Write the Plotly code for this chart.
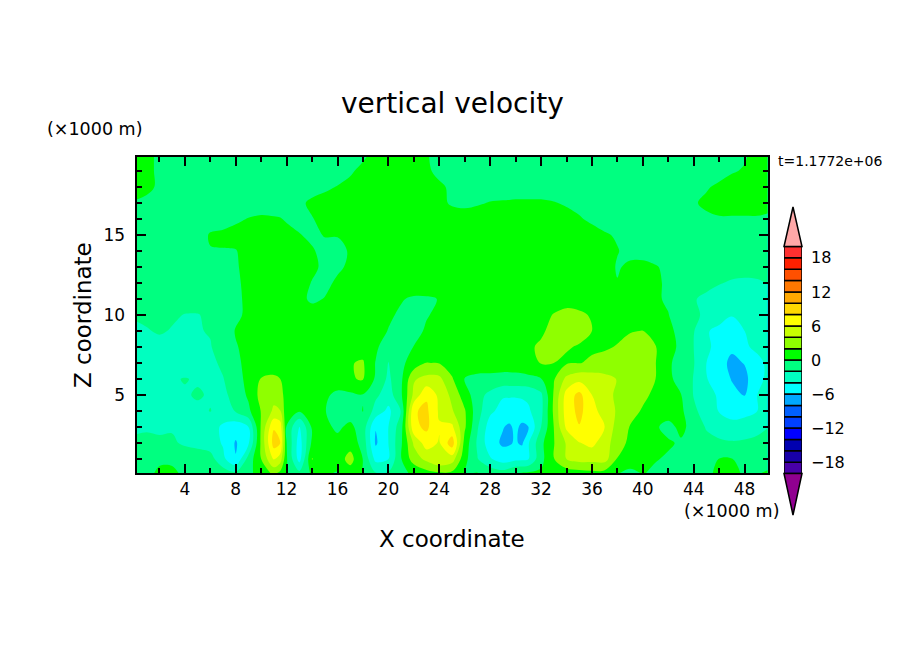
import plotly.graph_objects as go

W, H = 904, 654
FONT = "DejaVu Sans"

# grid of the field, km (a few half steps where the cells are narrow)
x_km = list(range(12)) + [11.5] + list(range(12, 30)) + [29.5, 30, 30.5] + list(range(31, 51))
z_km = [0.125, 1, 2, 3, 4, 5, 6, 7, 8, 9, 10, 11, 12, 13, 14, 15, 16, 17, 18, 19, 19.875]

# vertical velocity along each height level, same order as x_km
w_z00 = [-.5,-.3,.2,.2,-.2,-.4,-.6,-1,-1.6,-.4, .7,2.5,1.5,.1,-1.5,.3,.2,-.1,1,-.1,-1.9, -1.8,-.4,.3,1.3,1.8,1.6,-.1,.05,-.7,-1.2,-.6, .05,.1,.2,.3,.6,1,1.3,1.5,1.3,.1,-.4, .1,-.3,-.4,-.5,-.6,-.3,.3,.2,-.1,-.1,.2]
w_z01 = [-.8,-.5,-.2,-.2,-.7,-.9,-1.2,-3.5,-5.9,-1.2, 2,6.2,5,.2,-4.8,2.1,.4,.9,2.8,-.05,-4.6, -4,-.1,3,4.5,5.9,5,.6,-1.9,-3.8,-5,-4.9, -4.5,-4.4,-4.1,-.6,1.9,4,4.7,4.7,4.8,1.9,.9, .4,.1,-.2,-.6,-.8,-.7,.05,.05,-.5,-.6,-.5]
w_z02 = [-1.5,-1.4,-1.5,-1.7,-2.3,-2.6,-3,-4.2,-6.2,-4.3, 2.4,8.9,8,0,-5,.4,.4,.5,1.1,-.7,-6.3, -4,-.3,4.3,7,5.8,9.2,1.2,-2.3,-5.2,-6.3,-6.2, -5.8,-6.3,-4.2,-.5,1.9,4.2,5.9,6.5,5,2.8,1.6, .6,.15,.2,-.2,-.9,-1.3,-1.6,-1.8,-1.7,-1.4,-1]
w_z03 = [-2.5,-2.3,-2.5,-2.2,-2.5,-2.4,-3,-4.4,-5.1,-4, 2.3,7.8,7.1,-.1,-4.3,.3,.4,-.3,.4,-.9,-5.9, -4,-.8,7.5,8.4,6.2,6.4,2.3,-1.8,-5,-5.9,-6.3, -5.6,-6.4,-6.05,-2,2,6.4,7.9,7.4,6,3.1,1.9, 1.2,.2,-.5,.4,-.6,-2.2,-3,-3.3,-3.1,-2.7,-1.9]
w_z04 = [-2.9,-2.9,-2.9,-2.9,-2.8,-2.4,-1.95,-2.6,-1.9,-.4, 2.1,4.4,4.1,.5,.2,.4,.1,-1,-.9,.05,-2.8, -4.5,-1.9,7.8,8.4,5.7,4.2,2.2,-1.2,-3.6,-4.7,-4.9, -5,-4.9,-4.3,-2.6,2.4,7,8.5,6.8,5,3.8,2.7, 1.8,1.2,.8,.4,-1.6,-2.9,-4.1,-4.8,-4.6,-4,-3.3]
w_z05 = [-3.1,-3.1,-3,-3,-2.2,-1.8,-2.2,-2.5,-1.2,.3, 2.7,3.3,2.6,1.3,.6,.6,.3,-.4,-.4,-.1,-1.6, -3,-.3,4.5,7.7,5.5,3.5,1,-1.2,-2.6,-3.8,-3.8, -3.8,-3.7,-3.6,-2.4,2.2,6.8,8.6,6,4.6,3.7,3, 2.4,1.6,.9,.05,-2.1,-3.2,-4.3,-5.5,-6.1,-4,-3.5]
w_z06 = [-3,-3,-3,-2.2,-1.9,-2.2,-2.4,-2.1,-.7,.5, 2.1,2.3,2,1.6,1.3,1,.9,1,1.9,2.1,-.3, -2.4,-.4,3.8,4.6,4.5,2.2,-.1,-.3,-.4,-.6,-.6, -.6,-.6,-.5,-.1,1.8,4.5,5.4,5.2,4.8,3.9,3.2, 2.6,2,.3,-.5,-2.1,-3.9,-5,-6.1,-6.6,-4.4,-3.6]
w_z07 = [-3,-3,-3,-3,-3.1,-3.1,-2.5,-1.6,-.3,.4, .9,1.1,1.1,1.1,1.2,1.3,1.2,1.2,1.9,2.2,-.1, -2.05,-.4,.8,2.05,1.9,1,.6,.6,.7,.8,.8, .9,1.1,1.4,2.1,2,1.8,1.95,2.2,2.3,2.4,2.5, 2.5,2.05,.2,-.5,-1.9,-4,-5.2,-6.5,-5.9,-4.4,-3.6]
w_z08 = [-2.7,-2.6,-2.5,-2.5,-2.6,-2.6,-2.1,-1.2,-.1,.4, .7,1,1,1,1.1,1.1,1,1,1.1,1.2,.4, -1.3,-.9,.05,.5,.9,1.1,1.3,1.4,1.5,1.5,1.5, 1.6,1.7,1.9,2.1,2.4,2.1,1.9,1.8,1.9,2.05,2.3, 2.3,2.1,.5,-.3,-2,-3.6,-4.7,-5.6,-4.2,-3.7,-3.3]
w_z09 = [-2.4,-2.1,-1.85,-2.1,-2.3,-2.1,-1.9,-1,.1,.4, .7,.9,1,1,1,.9,.9,.9,.9,.8,.5, -.05,-.8,-.5,.2,.6,.9,1.2,1.4,1.5,1.6,1.65, 1.7,1.75,1.8,1.9,2.2,2.5,2.4,2,1.8,1.8,1.95, 2.02,1.2,.4,-.5,-1.9,-3.8,-4.6,-5,-4,-3.5,-3.2]
w_z10 = [-1.8,-1.7,-1.7,-1.8,-2.05,-2.05,-1.8,-1.3,-.3,.3, .7,.9,.9,.9,.7,.5,.5,.6,.7,.7,.5, .2,-.2,-.6,-.1,.3,.5,.9,1.1,1.3,1.4,1.45, 1.5,1.55,1.6,1.7,2.05,2.3,2.2,1.9,1.6,1.5,1.5, 1.4,.7,.05,-.8,-1.7,-2.3,-3,-3.9,-3.7,-3.1,-2.8]
w_z11 = [-1.4,-1.4,-1.4,-1.4,-1.4,-1.5,-1.4,-1.1,-.3,.3, .7,.8,.8,.7,.3,-.2,.05,.4,.6,.7,.7, .4,.1,-.2,-.2,.05,.5,.8,1,1.2,1.3,1.35, 1.4,1.4,1.4,1.5,1.6,1.6,1.5,1.4,1.2,1.2,1.2, 1,.2,-.2,-.7,-1.9,-2.3,-2.8,-3,-3,-2.8,-2.5]
w_z12 = [-1.2,-1.2,-1.2,-1.2,-1.2,-1.2,-1.1,-.9,-.2,.3, .6,.7,.7,.7,.4,-.05,-.3,.2,.5,.7,.8, .8,.8,.9,1,1.1,1.2,1.3,1.4,1.4,1.5,1.5, 1.5,1.5,1.5,1.5,1.5,1.5,1.4,1.2,.4,.05,.7, .6,.3,-.3,-.8,-1.2,-1.6,-1.9,-2.2,-2.3,-2.2,-1.9]
w_z13 = [-.9,-.9,-.9,-.9,-.9,-.9,-.8,-.6,-.1,.3, .6,.7,.65,.6,.5,.2,-.2,-.2,.2,.5,.7, .9,1,1.1,1.1,1.1,1.1,1.1,1.1,1.1,1.1,1.1, 1.1,1.1,1.1,1.1,1.1,1.1,1,.8,.5,-.1,.2, .3,.1,-.3,-.7,-1,-1.1,-1.2,-1.3,-1.4,-1.4,-1.4]
w_z14 = [-.8,-.8,-.8,-.8,-.8,-.7,-.05,-.05,-.05,.4, .6,.6,.55,.5,.3,.1,-.3,-.3,.1,.4,.6, .8,.9,1,1,1,1,1,1,1,1,1, 1,1,1,1,1,1,.9,.7,.4,.05,-.3, -.4,-.6,-.8,-.9,-1,-1,-1,-1,-1,-1,-1]
w_z15 = [-.7,-.7,-.7,-.7,-.7,-.5,.1,.2,.4,.4, .5,.4,.35,.3,.05,-.2,.05,.05,.3,.5,.7, .8,.9,.9,.9,.9,.9,.9,.9,.9,.9,.9, .9,.9,.9,.9,.8,.7,.6,.4,.1,-.1,-.4, -.6,-.7,-.7,-.8,-.8,-.8,-.8,-.8,-.8,-.8,-.8]
w_z16 = [-.6,-.6,-.6,-.6,-.6,-.6,-.5,-.4,-.2,.05, .2,.1,.05,-.1,-.3,-.05,.3,.5,.7,.8,.8, .8,.8,.7,.6,.5,.4,.4,.5,.5,.5,.55, .6,.6,.6,.6,.5,.3,.1,-.2,-.4,-.5,-.6, -.6,-.6,-.6,-.5,-.3,-.2,-.1,-.1,-.1,-.1,-.2]
w_z17 = [-.1,-.3,-.5,-.6,-.6,-.6,-.6,-.6,-.6,-.6, -.6,-.5,-.45,-.4,-.2,.2,.4,.6,.7,.8,.8, .8,.8,.6,.4,.2,-.1,-.2,-.1,.05,.1,.12, .15,.15,.15,.15,.05,-.1,-.3,-.5,-.6,-.6,-.6, -.6,-.6,-.5,-.4,-.1,.2,.4,.4,.4,.4,.3]
w_z18 = [.5,.3,-.2,-.6,-.6,-.6,-.6,-.6,-.6,-.6, -.6,-.6,-.6,-.6,-.5,-.4,-.2,.05,.4,.6,.7, .8,.8,.7,.5,.2,-.2,-.4,-.5,-.5,-.5,-.5, -.5,-.5,-.5,-.5,-.5,-.6,-.6,-.6,-.6,-.6,-.6, -.6,-.6,-.6,-.5,-.4,-.1,.2,.5,.6,.6,.6]
w_z19 = [.6,.4,-.3,-.6,-.6,-.6,-.6,-.6,-.6,-.6, -.6,-.6,-.6,-.6,-.6,-.6,-.6,-.5,-.2,.4,.6, .7,.7,.6,.2,-.3,-.5,-.6,-.6,-.6,-.6,-.6, -.6,-.6,-.6,-.6,-.6,-.6,-.6,-.6,-.6,-.6,-.6, -.6,-.6,-.6,-.6,-.6,-.5,-.4,-.1,.1,.4,.5]
w_z20 = [.6,.4,-.3,-.6,-.6,-.6,-.6,-.6,-.6,-.6, -.6,-.6,-.6,-.6,-.6,-.6,-.6,-.5,-.4,-.2,.5, .6,.6,.5,.1,-.4,-.5,-.6,-.6,-.6,-.6,-.6, -.6,-.6,-.6,-.6,-.6,-.6,-.6,-.6,-.6,-.6,-.6, -.6,-.6,-.6,-.6,-.6,-.6,-.5,-.4,-.1,.4,.5]
w_rows = [w_z00, w_z01, w_z02, w_z03, w_z04, w_z05, w_z06, w_z07, w_z08, w_z09, w_z10,
          w_z11, w_z12, w_z13, w_z14, w_z15, w_z16, w_z17, w_z18, w_z19, w_z20]

levels = list(range(-20, 21, 2))
# under, 20 boxes, over
band_colors = ["#900090", "#4800a8", "#1800a8", "#0000b0", "#0000ff", "#0040ff", "#0060ff", "#00a8ff",
               "#00ffff", "#00ffc0", "#00ff80", "#00ff00", "#8fff00", "#c8ff00", "#ffff00", "#ffd800",
               "#ffa800", "#ff7800", "#ff5000", "#ff2000", "#ff3030", "#ffa8a8"]
x_ticks = list(range(4, 49, 4))
z_ticks = [5, 10, 15]
bar_ticks = [-18, -12, -6, 0, 6, 12, 18]
bar_labels = ["\u221218", "\u221212", "\u22126", "0", "6", "12", "18"]


def px(x):
    return x / W


def py(y):
    return 1 - y / H


n = len(band_colors) - 1
scale = [[i / n, c] for i, c in enumerate(band_colors)]

fig = go.Figure()
fig.add_trace(go.Contour(x=x_km, y=z_km, z=w_rows, colorscale=scale, showscale=False,
                         autocontour=False, line_width=0, hoverinfo="skip",
                         contours=dict(start=-20, end=20, size=2, coloring="fill", showlines=False)))

# colour key as stacked boxes on its own axes
fig.add_trace(go.Bar(x=[0.5] * 20, y=[2] * 20, base=levels[:-1], width=1, xaxis="x2", yaxis="y2",
                     marker=dict(color=band_colors[1:-1], line=dict(color="black", width=1.5)),
                     hoverinfo="skip", showlegend=False))

axis_style = dict(showgrid=False, zeroline=False, showline=True, linecolor="black", linewidth=2,
                  mirror="allticks", ticks="inside", ticklen=9, tickwidth=2, tickcolor="black")
fig.update_layout(
    width=W, height=H, margin=dict(l=0, r=0, t=0, b=0), paper_bgcolor="white", plot_bgcolor="white",
    font=dict(family=FONT, color="black", size=17), showlegend=False,
    xaxis=dict(domain=[px(136.5), px(767.5)], range=[0.2, 49.8], tickvals=x_ticks,
               minor=dict(dtick=2, tick0=0, ticks="inside", ticklen=5, tickwidth=1.5, tickcolor="black"),
               **axis_style),
    yaxis=dict(domain=[py(473), py(157)], range=[0.125, 19.875], tickvals=z_ticks, ticklabelstandoff=6,
               minor=dict(dtick=1, tick0=0, ticks="inside", ticklen=5, tickwidth=1.5, tickcolor="black"),
               **axis_style),
    xaxis2=dict(domain=[px(784), px(802)], range=[0, 1], visible=False, anchor="y2"),
    yaxis2=dict(domain=[py(473.5), py(246.5)], range=[-20, 20], anchor="x2", side="right",
                tickvals=bar_ticks, ticktext=bar_labels, ticks="", showgrid=False, zeroline=False,
                showline=False, ticklabelstandoff=8, tickfont=dict(size=16)),
)


def tri(tip_y, base_y, color):
    path = f"M {px(784)},{py(base_y)} L {px(793)},{py(tip_y)} L {px(802)},{py(base_y)} Z"
    fig.add_shape(type="path", path=path, xref="paper", yref="paper", fillcolor=color,
                  line=dict(color="black", width=1.5))


tri(207, 246.5, band_colors[-1])
tri(515, 473.5, band_colors[0])


def label(text, x, y, size, angle=0, anchor="center"):
    fig.add_annotation(text=text, x=px(x), y=py(y), xref="paper", yref="paper", showarrow=False,
                       xanchor=anchor, yanchor="middle", textangle=angle,
                       font=dict(family=FONT, size=size, color="black"))


label("vertical velocity", 452, 104, 28)
label("X coordinate", 452, 539, 23)
label("Z coordinate", 83, 315, 23, angle=-90)
label("(\u00d71000 m)", 45, 129, 17.5, anchor="left")
label("(\u00d71000 m)", 682, 511, 17.5, anchor="left")
label("t=1.1772e+06", 776, 161, 14, anchor="left")

fig.write_html("out.html", config={"displayModeBar": False},
               post_script="document.body.style.margin='0'")
